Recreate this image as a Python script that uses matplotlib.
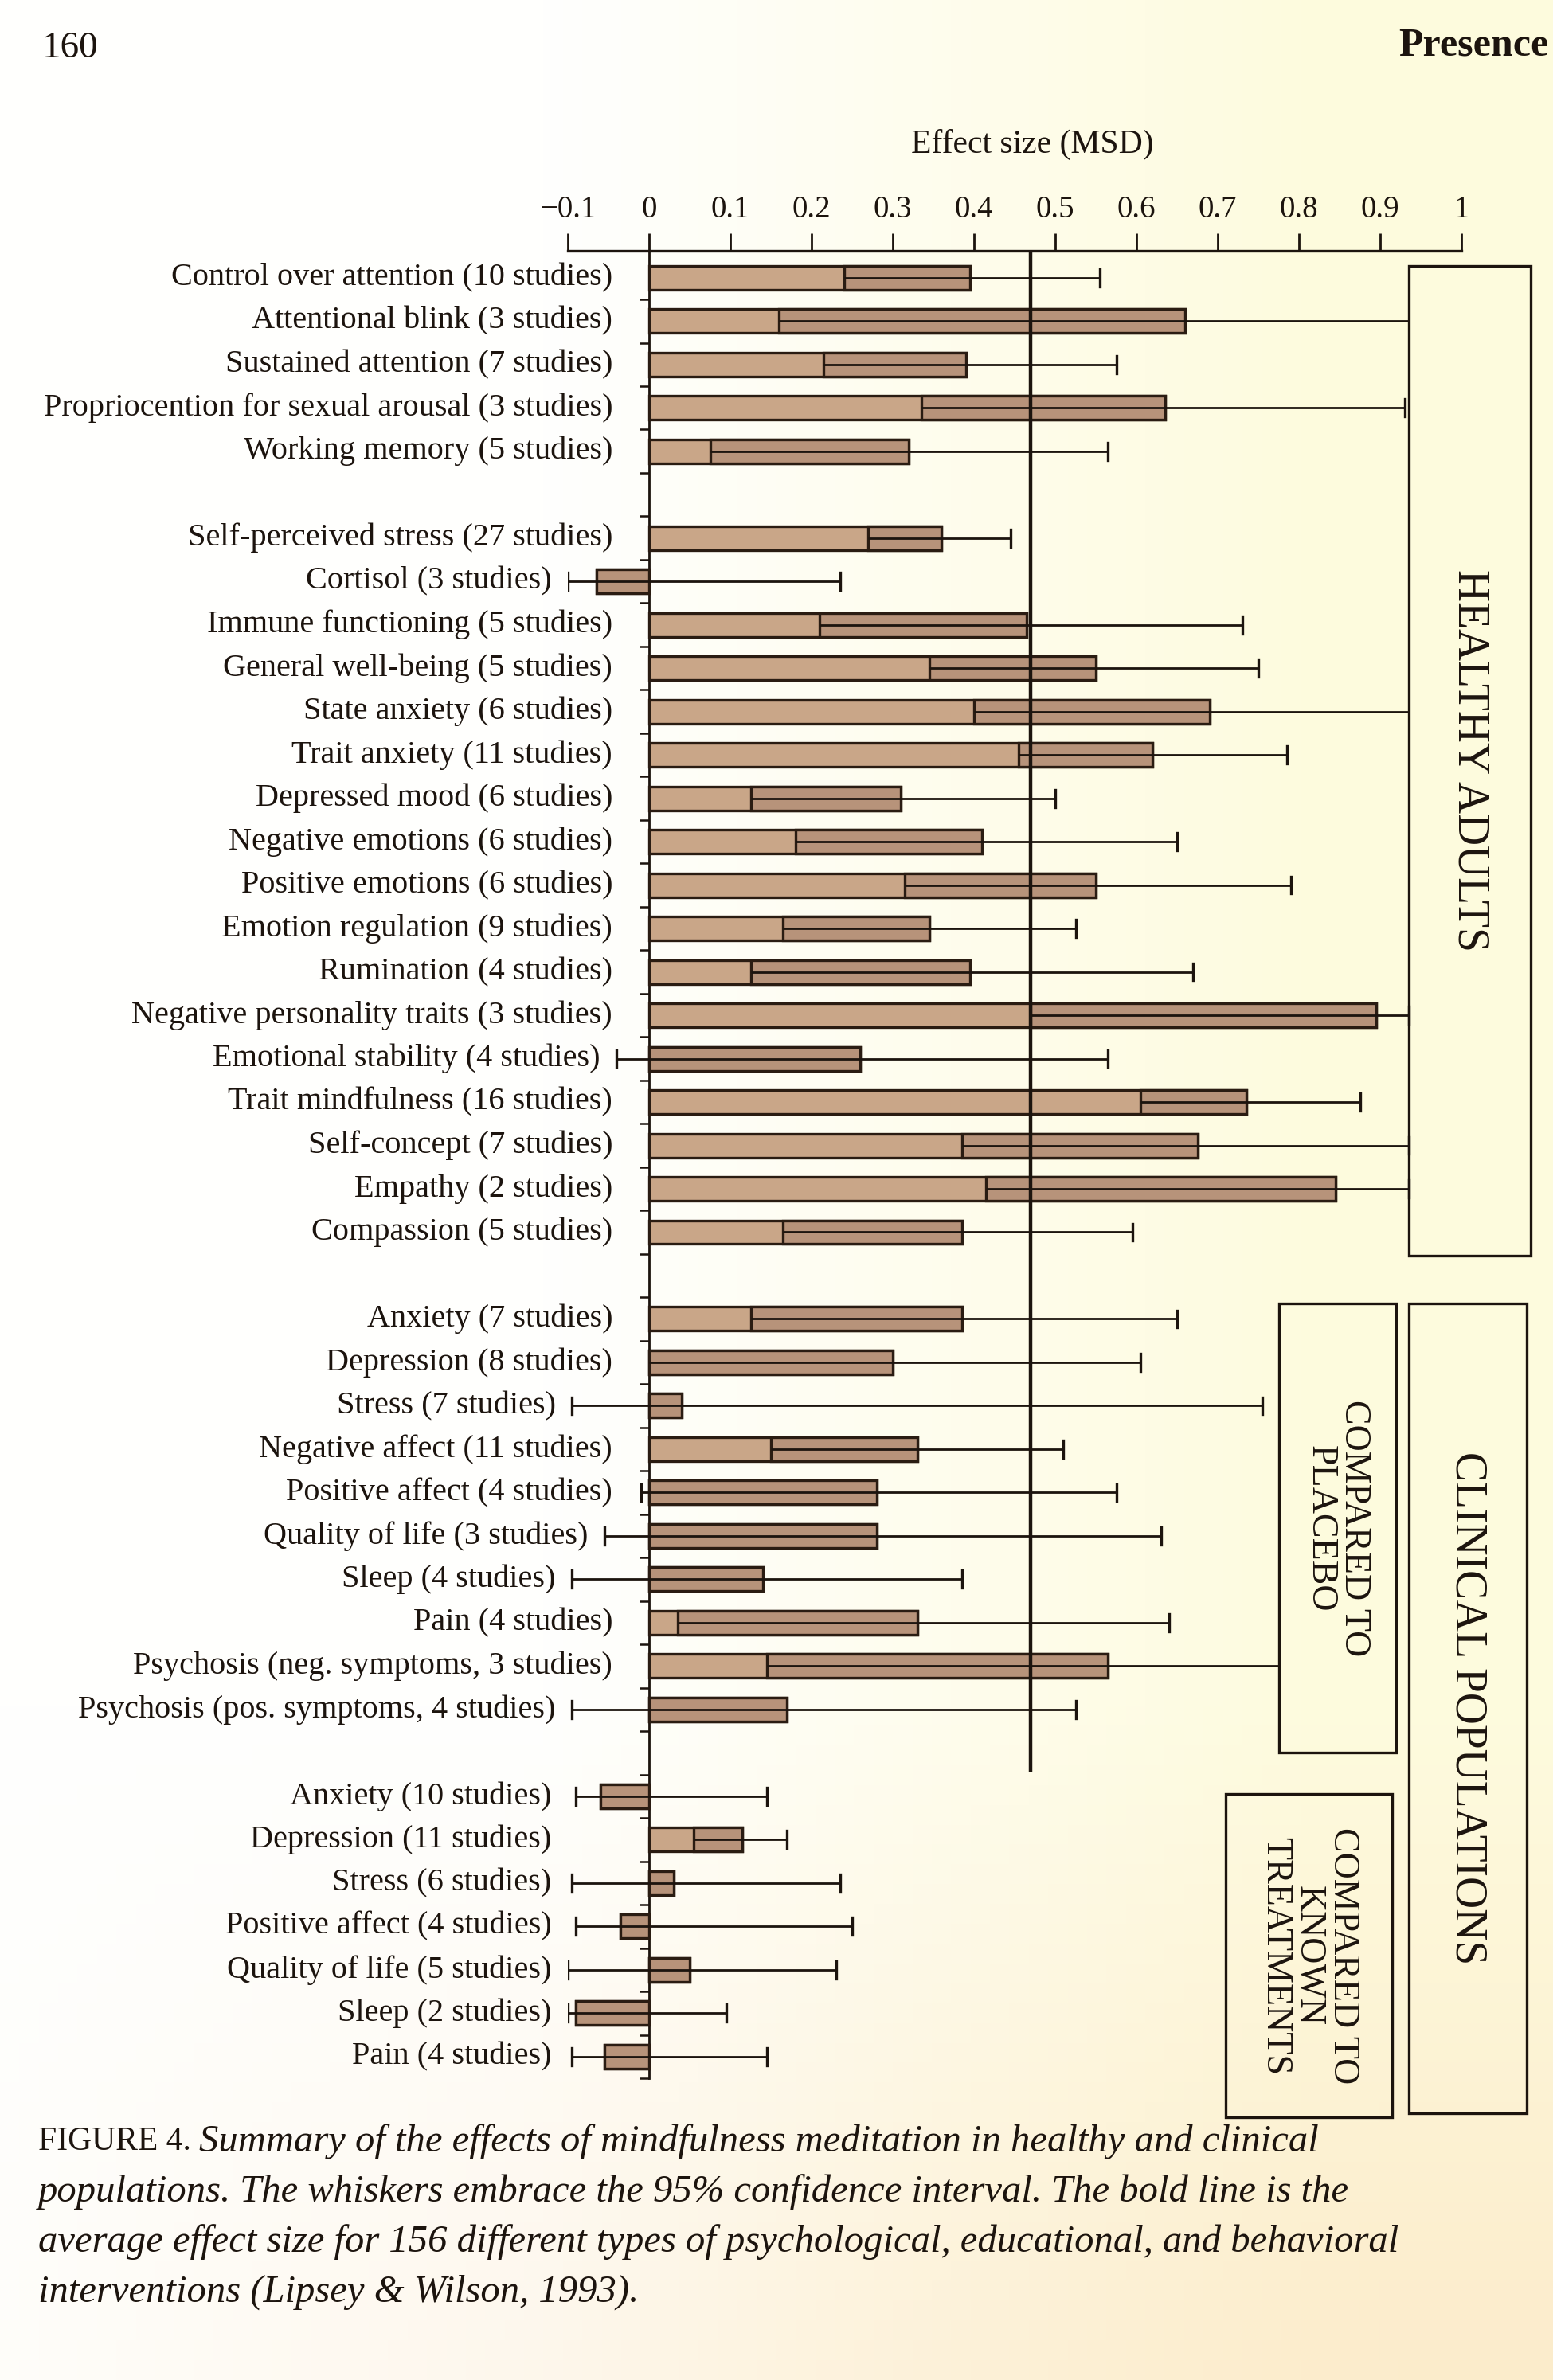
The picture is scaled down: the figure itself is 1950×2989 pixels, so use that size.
import numpy as np
import matplotlib.pyplot as plt
from matplotlib.patches import Rectangle

plt.rcParams['font.family'] = ['Liberation Serif', 'DejaVu Serif']

# Healthy adults, attention block
labels_a = ["Control over attention (10 studies)", "Attentional blink (3 studies)",
            "Sustained attention (7 studies)", "Propriocention for sexual arousal (3 studies)",
            "Working memory (5 studies)"]
mean_a = [0.395, 0.66, 0.39, 0.635, 0.32]
lo_a = [0.24, 0.16, 0.215, 0.335, 0.075]
hi_a = [0.555, 1.05, 0.575, 0.93, 0.565]

# Healthy adults, stress / emotion block
labels_b = ["Self-perceived stress (27 studies)", "Cortisol (3 studies)",
            "Immune functioning (5 studies)", "General well-being (5 studies)",
            "State anxiety (6 studies)", "Trait anxiety (11 studies)",
            "Depressed mood (6 studies)", "Negative emotions (6 studies)",
            "Positive emotions (6 studies)", "Emotion regulation (9 studies)",
            "Rumination (4 studies)", "Negative personality traits (3 studies)",
            "Emotional stability (4 studies)", "Trait mindfulness (16 studies)",
            "Self-concept (7 studies)", "Empathy (2 studies)", "Compassion (5 studies)"]
mean_b = [0.36, -0.065, 0.465, 0.55, 0.69, 0.62, 0.31, 0.41, 0.55, 0.345, 0.395,
          0.895, 0.26, 0.735, 0.675, 0.845, 0.385]
lo_b = [0.27, -0.10, 0.21, 0.345, 0.40, 0.455, 0.125, 0.18, 0.315, 0.165, 0.125,
        0.47, -0.04, 0.605, 0.385, 0.415, 0.165]
hi_b = [0.445, 0.235, 0.73, 0.75, 1.0, 0.785, 0.50, 0.65, 0.79, 0.525, 0.67,
        0.935, 0.565, 0.875, 0.935, 0.935, 0.595]

# Clinical populations compared to placebo
labels_c = ["Anxiety (7 studies)", "Depression (8 studies)", "Stress (7 studies)",
            "Negative affect (11 studies)", "Positive affect (4 studies)",
            "Quality of life (3 studies)", "Sleep (4 studies)", "Pain (4 studies)",
            "Psychosis (neg. symptoms, 3 studies)", "Psychosis (pos. symptoms, 4 studies)"]
mean_c = [0.385, 0.30, 0.04, 0.33, 0.28, 0.28, 0.14, 0.33, 0.565, 0.17]
lo_c = [0.125, 0.0, -0.095, 0.15, -0.01, -0.055, -0.095, 0.035, 0.145, -0.095]
hi_c = [0.65, 0.605, 0.755, 0.51, 0.575, 0.63, 0.385, 0.64, 0.95, 0.525]

# Clinical populations compared to known treatments
labels_d = ["Anxiety (10 studies)", "Depression (11 studies)", "Stress (6 studies)",
            "Positive affect (4 studies)", "Quality of life (5 studies)",
            "Sleep (2 studies)", "Pain (4 studies)"]
mean_d = [-0.06, 0.115, 0.03, -0.035, 0.05, -0.09, -0.055]
lo_d = [-0.09, 0.055, -0.095, -0.09, -0.1, -0.1, -0.095]
hi_d = [0.145, 0.17, 0.235, 0.25, 0.23, 0.095, 0.145]

avg_effect = 0.47  # Lipsey & Wilson (1993)
xticks = [-0.1, 0, 0.1, 0.2, 0.3, 0.4, 0.5, 0.6, 0.7, 0.8, 0.9, 1.0]
xticklabels = ["\u22120.1", "0", "0.1", "0.2", "0.3", "0.4", "0.5", "0.6", "0.7", "0.8", "0.9", "1"]

light = '#c9a688'
dark = '#b7937a'
edge = '#2a1c12'
ink = '#1c140e'

fig = plt.figure(figsize=(19.5, 29.89), dpi=100)

# paper tint
bg = fig.add_axes([0, 0, 1, 1], zorder=-10)
xx = np.linspace(0, 1, 80)[None, :, None]
yy = np.linspace(0, 1, 120)[:, None, None]
white = np.array([1.0, 1.0, 0.995])
yellow = np.array([0.995, 0.985, 0.87])
peach = np.array([0.985, 0.90, 0.77])
a = np.clip((xx - 0.35) / 0.5, 0, 1)
img = white * (1 - a) + yellow * a
b = np.clip((yy - 0.72) / 0.28, 0, 1) * np.clip((xx + 0.1), 0, 1) * 0.7
img = img * (1 - b) + peach * b
bg.imshow(img, aspect='auto', extent=[0, 1, 0, 1], origin='upper')
bg.axis('off')

ax = fig.add_axes([713 / 1950, 1 - 2610 / 2989, 1122 / 1950, 2295 / 2989])
ax.set_facecolor('none')
ax.set_xlim(-0.1, 1.0)
ax.set_ylim(41.45, -0.62)

groups = [
    (labels_a, mean_a, lo_a, hi_a, 0, 0.935, -0.045),
    (labels_b, mean_b, lo_b, hi_b, 6, 0.935, -0.045),
    (labels_c, mean_c, lo_c, hi_c, 24, 0.775, -0.045),
    (labels_d, mean_d, lo_d, hi_d, 35, 2.0, -0.12),
]

bh = 0.55
cap = 0.2
for labels, means, los, his, start, clip, lab_x in groups:
    for i, (lab, m, lo, hi) in enumerate(zip(labels, means, los, his)):
        y = start + i
        x0, x1 = min(0, m), max(0, m)
        ax.add_patch(Rectangle((x0, y - bh / 2), x1 - x0, bh, fc=light, ec=edge, lw=2.4, zorder=3))
        if m > 0:
            d0 = max(lo, 0)
        else:
            d0 = m
        ax.add_patch(Rectangle((d0, y - bh / 2), (x1 if m > 0 else 0) - d0, bh,
                               fc=dark, ec=edge, lw=2.4, zorder=4))
        top = min(hi, clip)
        ax.plot([lo, top], [y, y], color=ink, lw=2.0, zorder=5, solid_capstyle='butt')
        if hi <= clip:
            ax.plot([hi, hi], [y - cap, y + cap], color=ink, lw=2.4, zorder=5)
        if lo < x0:
            ax.plot([lo, lo], [y - cap, y + cap], color=ink, lw=2.4, zorder=5)
        tx = lab_x if start == 35 else min(lab_x, lo - 0.02)
        ax.text(tx, y, lab, ha='right', va='center', fontsize=29, color=ink, zorder=6)

# bold line: average effect size
ax.plot([avg_effect, avg_effect], [-0.62, 33 + 1.4], color=ink, lw=3.2, zorder=6)

# axes
for s in ['right', 'bottom']:
    ax.spines[s].set_visible(False)
ax.spines['left'].set_position(('data', 0))
ax.spines['left'].set_linewidth(2.0)
ax.spines['top'].set_linewidth(2.4)
ax.spines['left'].set_color(ink)
ax.spines['top'].set_color(ink)
ax.xaxis.tick_top()
ax.set_xticks(xticks)
ax.set_xticklabels(xticklabels, fontsize=28, color=ink)
ax.tick_params(axis='x', direction='out', length=16, width=2, pad=8, colors=ink)
ax.set_yticks([k + 0.5 for k in range(42)])
ax.tick_params(axis='y', direction='out', length=9, width=1.8, labelleft=False, colors=ink)

# group boxes
boxes = [
    (0.935, 1.085, -0.28, 22.55, "HEALTHY ADULTS", 40),
    (0.775, 0.92, 23.65, 34.0, "COMPARED TO\nPLACEBO", 33),
    (0.935, 1.08, 23.65, 42.3, "CLINICAL POPULATIONS", 40),
    (0.71, 0.915, 34.95, 42.4, "COMPARED TO\nKNOWN\nTREATMENTS", 33),
]
for bx0, bx1, by0, by1, txt, fs in boxes:
    ax.add_patch(Rectangle((bx0, by0), bx1 - bx0, by1 - by0, fc='none', ec=ink, lw=2.4,
                           zorder=6, clip_on=False))
    ax.text((bx0 + bx1) / 2, (by0 + by1) / 2, txt, rotation=-90, ha='center', va='center',
            multialignment='center', fontsize=fs, color=ink, linespacing=1.0, clip_on=False)

# page furniture
fig.text(1296 / 1950, 1 - 181 / 2989, "Effect size (MSD)", ha='center', va='center', fontsize=30, color=ink)
fig.text(53 / 1950, 1 - 61 / 2989, "160", ha='left', va='center', fontsize=34, color=ink)
fig.text(1944 / 1950, 1 - 58 / 2989, "Presence", ha='right', va='center', fontsize=36,
         color=ink, fontweight='bold')

# caption
cap_lines = ["Summary of the effects of mindfulness meditation in healthy and clinical",
             "populations. The whiskers embrace the 95% confidence interval. The bold line is the",
             "average effect size for 156 different types of psychological, educational, and behavioral",
             "interventions (Lipsey & Wilson, 1993)."]
cap_y = [2690, 2753, 2816, 2879]
renderer = fig.canvas.get_renderer()
head = fig.text(48 / 1950, 1 - cap_y[0] / 2989, "FIGURE 4. ", ha='left', va='center',
                fontsize=30, color=ink)
hb = head.get_window_extent(renderer)
fig.text(hb.x1 / 1950, 1 - cap_y[0] / 2989, cap_lines[0], ha='left', va='center',
         fontsize=35, style='italic', color=ink)
for line, yy_ in zip(cap_lines[1:], cap_y[1:]):
    fig.text(48 / 1950, 1 - yy_ / 2989, line, ha='left', va='center', fontsize=35,
             style='italic', color=ink)

fig.savefig('out.png', dpi=100)
